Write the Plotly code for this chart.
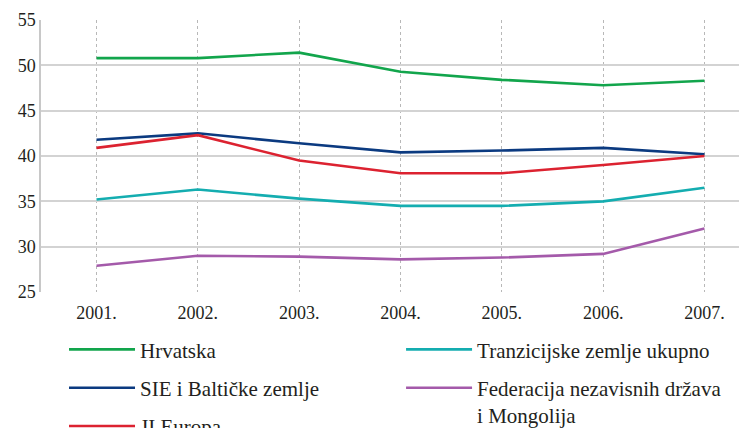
import plotly.graph_objects as go

# Data
years = ["2001.", "2002.", "2003.", "2004.", "2005.", "2006.", "2007."]

hrvatska = [50.8, 50.8, 51.4, 49.3, 48.4, 47.8, 48.3]
tranzicijske = [35.2, 36.3, 35.3, 34.5, 34.5, 35.0, 36.5]
sie_baltik = [41.8, 42.5, 41.4, 40.4, 40.6, 40.9, 40.2]
fnd_mongolija = [27.9, 29.0, 28.9, 28.6, 28.8, 29.2, 32.0]
ji_europa = [40.9, 42.3, 39.5, 38.1, 38.1, 39.0, 40.0]

# name, values, colour, legend column
series = [
    ("Hrvatska", hrvatska, "#12a54c", "legend"),
    ("SIE i Baltičke zemlje", sie_baltik, "#0b3a80", "legend"),
    ("JI Europa", ji_europa, "#dc2230", "legend"),
    ("Tranzicijske zemlje ukupno", tranzicijske, "#14adb0", "legend2"),
    ("Federacija nezavisnih država<br>i Mongolija", fnd_mongolija, "#a45aaa", "legend2"),
]

serif = "Liberation Serif"
text_col = "#231f20"

fig = go.Figure()
for name, vals, color, leg in series:
    fig.add_trace(go.Scatter(
        x=years, y=vals, mode="lines", name=name, legend=leg,
        legendgroup=name, line=dict(color=color, width=2.6),
    ))

leg_common = dict(
    orientation="v", yanchor="top", xanchor="left",
    traceorder="grouped", tracegroupgap=8, valign="top",
    itemwidth=66, bgcolor="rgba(0,0,0,0)",
    font=dict(family=serif, size=21, color=text_col),
)

# page body has an 8px margin, so the figure is 8px smaller each way
fig.update_layout(
    width=739, height=420,
    margin=dict(l=33, r=0, t=12, b=136, autoexpand=False),
    plot_bgcolor="white", paper_bgcolor="white",
    font=dict(family=serif, size=18, color=text_col),
    showlegend=True,
    legend=dict(x=0.0326, y=-0.137, **leg_common),
    legend2=dict(x=0.51, y=-0.137, **leg_common),
)

fig.update_xaxes(
    type="category", range=[-0.548, 6.42],
    showgrid=True, gridcolor="#b8b8b8", gridwidth=1, griddash="dot",
    showline=False, ticks="", tickfont=dict(size=18), ticklabelstandoff=8,
)
fig.update_yaxes(
    range=[25, 55], dtick=5,
    showgrid=True, gridcolor="#d3d3d3", gridwidth=1.5,
    showline=True, linecolor="#c8c8c8", linewidth=1.5,
    zeroline=False, ticks="", tickfont=dict(size=18),
)

fig.write_html("out.html")
